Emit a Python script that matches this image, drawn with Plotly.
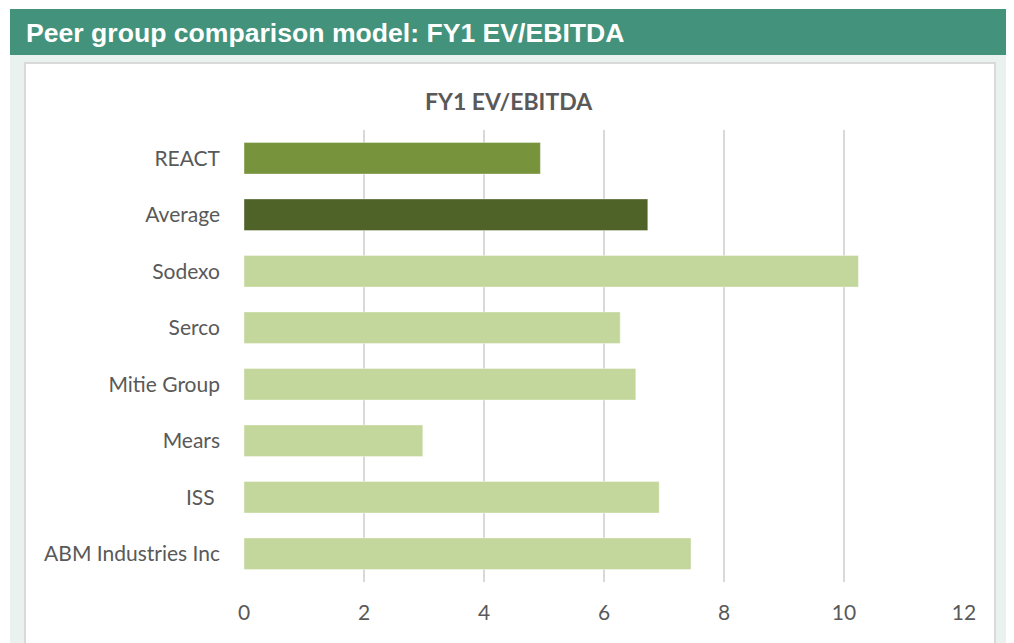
import plotly.graph_objects as go

categories = ["REACT", "Average", "Sodexo", "Serco", "Mitie Group", "Mears", "ISS ", "ABM Industries Inc"]
values = [4.94, 6.73, 10.24, 6.27, 6.53, 2.98, 6.92, 7.45]
bar_colors = ["#77933C", "#4F6228", "#C3D69B", "#C3D69B", "#C3D69B", "#C3D69B", "#C3D69B", "#C3D69B"]
x_ticks = [0, 2, 4, 6, 8, 10, 12]

W, H = 1014, 643
OFF = 8  # page body offset
ML, MR, MT, MB = 244 - OFF, W - (964 - OFF), 130 - OFF, H - (582 - OFF)
PW, PH = W - ML - MR, H - MT - MB


def px(x):
    return (x - OFF - ML) / PW


def py(y):
    return (H - MB - (y - OFF)) / PH


fig = go.Figure()
fig.add_trace(go.Bar(
    y=categories, x=values, orientation="h",
    marker=dict(color=bar_colors, line=dict(color="rgba(255,255,255,0.4)", width=1)),
    hoverinfo="x+y",
))

shapes = [
    dict(type="rect", xref="paper", yref="paper", x0=px(10), x1=px(1009), y0=py(55), y1=py(660),
         fillcolor="#EAF2EF", line=dict(width=0), layer="below"),
    dict(type="rect", xref="paper", yref="paper", x0=px(25), x1=px(995), y0=py(63), y1=py(670),
         fillcolor="#FFFFFF", line=dict(color="#D9D9D9", width=2), layer="below"),
    dict(type="rect", xref="paper", yref="paper", x0=px(10), x1=px(1009), y0=py(9), y1=py(55),
         fillcolor="#43937C", line=dict(width=0), layer="below"),
]

annotations = [
    dict(text="<b>Peer group comparison model: FY1 EV/EBITDA</b>", xref="paper", yref="paper",
         x=px(24), y=py(33), xanchor="left", yanchor="middle", showarrow=False,
         font=dict(family="Liberation Sans, Arial", size=26.6, color="#FFFFFF")),
    dict(text="<b>FY1 EV/EBITDA</b>", xref="paper", yref="paper",
         x=px(509), y=py(101), xanchor="center", yanchor="middle", showarrow=False,
         font=dict(family="Lato", size=23, color="#595959")),
]

fig.update_layout(
    width=W, height=H,
    margin=dict(l=ML, r=MR, t=MT, b=MB),
    paper_bgcolor="#FFFFFF", plot_bgcolor="rgba(0,0,0,0)",
    bargap=0.44,
    showlegend=False,
    shapes=shapes,
    annotations=annotations,
    font=dict(family="Lato", size=21, color="#595959"),
    xaxis=dict(range=[0, 12], tickvals=x_ticks, showgrid=True, gridcolor="#D9D9D9", gridwidth=2,
               zeroline=False, showline=False, ticks="", ticklabelstandoff=16,
               tickfont=dict(family="Lato", size=21, color="#595959")),
    yaxis=dict(autorange="reversed", showgrid=False, zeroline=False, showline=False, ticks="",
               ticklabelstandoff=23, tickfont=dict(family="Lato", size=21, color="#595959")),
)

fig.write_html("out.html")
